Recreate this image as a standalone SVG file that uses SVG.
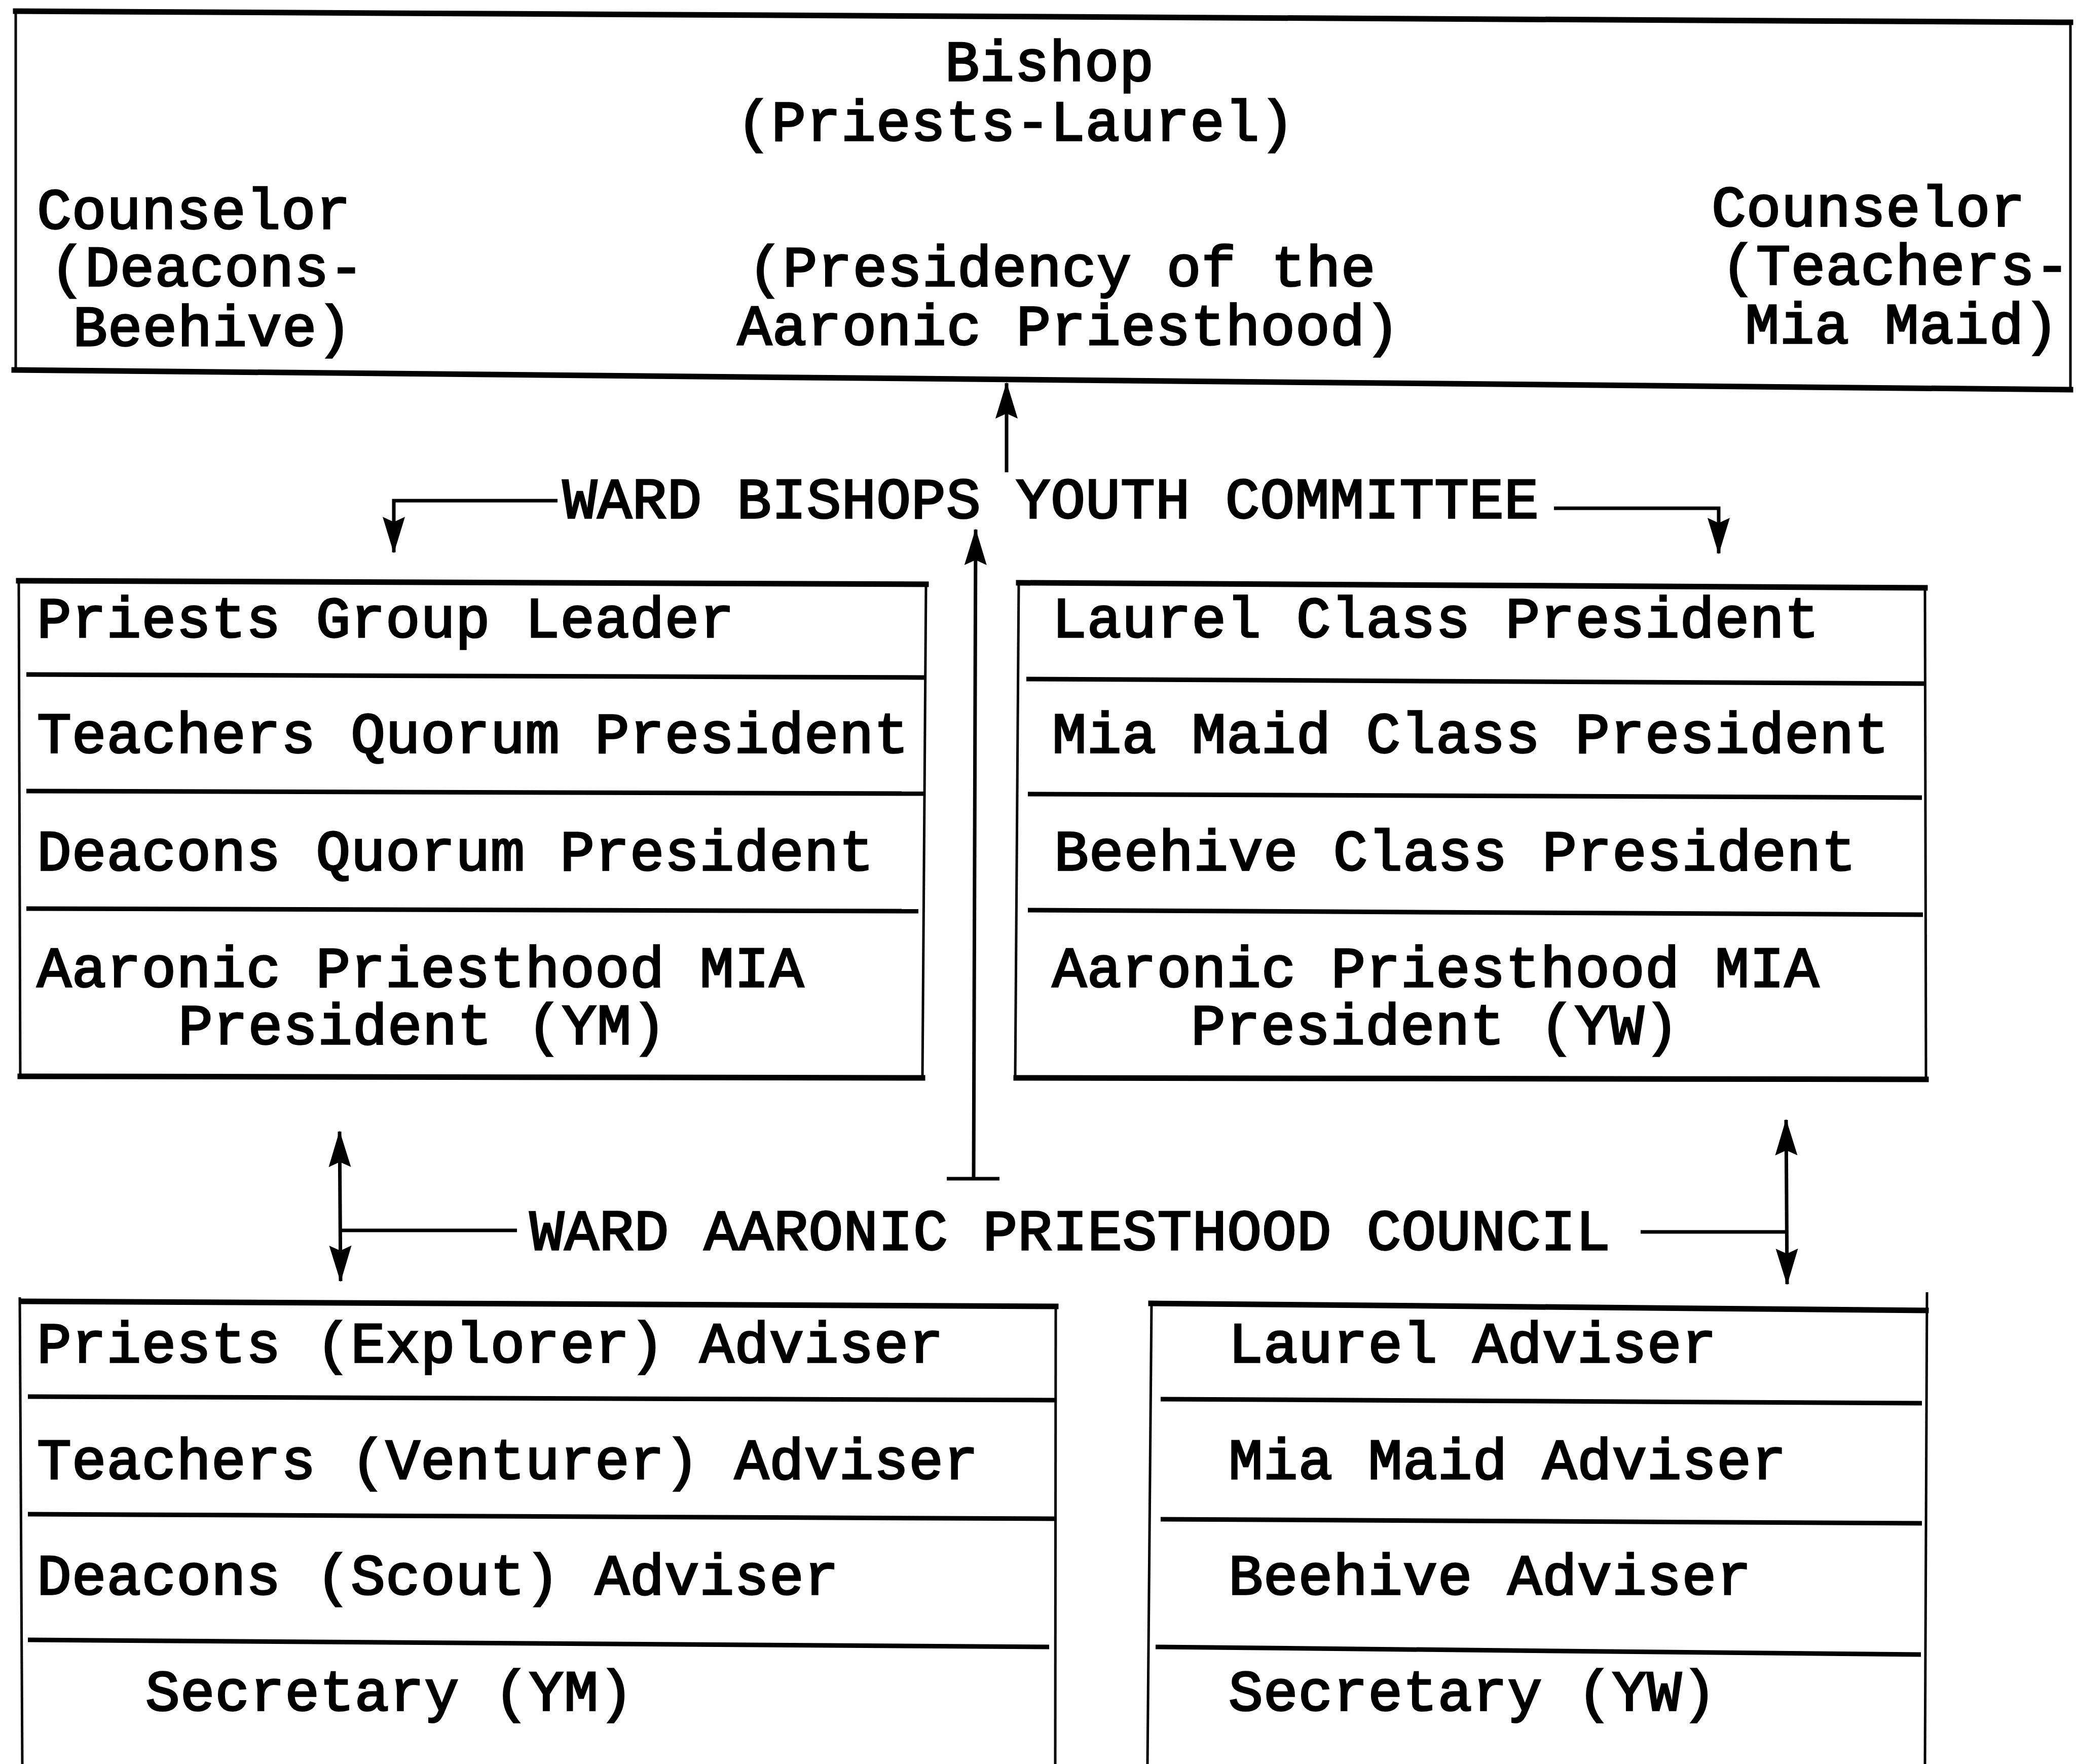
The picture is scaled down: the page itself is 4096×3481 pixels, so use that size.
<svg xmlns="http://www.w3.org/2000/svg" width="4096" height="3481" viewBox="0 0 4096 3481">
<defs>
<style>
.t{font-family:"Liberation Mono","Courier New",monospace;font-size:113px;letter-spacing:1px;fill:#000;stroke:#000;stroke-width:3.5px}
.h{stroke:#000;stroke-width:11;fill:none;stroke-linecap:square}
.d{stroke:#000;stroke-width:9;fill:none}
.v{stroke:#000;stroke-width:5;fill:none}
.c{stroke:#000;stroke-width:7;fill:none}
</style>
<marker id="arr" viewBox="0 0 72 46" refX="70" refY="23" markerWidth="72" markerHeight="46" markerUnits="userSpaceOnUse" orient="auto-start-reverse">
<path d="M0,1 L72,23 L0,45 L10,23 z" fill="#000"/>
</marker>
</defs>
<rect width="4096" height="3481" fill="#fff"/>

<g id="presidency">
<line class="h" x1="31" y1="22" x2="4085" y2="44"/>
<line class="h" x1="28" y1="730" x2="4085" y2="769"/>
<line class="v" x1="31" y1="22" x2="31" y2="730"/>
<line class="v" x1="4085" y1="44" x2="4085" y2="769"/>
<text class="t" x="2071" y="159" text-anchor="middle">Bishop</text>
<text class="t" x="2004" y="277" text-anchor="middle">(Priests-Laurel)</text>
<text class="t" x="73" y="451">Counselor</text>
<text class="t" x="99" y="564">(Deacons-</text>
<text class="t" x="144" y="682">Beehive)</text>
<text class="t" x="1476" y="564">(Presidency of the</text>
<text class="t" x="1455" y="680">Aaronic Priesthood)</text>
<text class="t" x="3377" y="446">Counselor</text>
<text class="t" x="3396" y="561">(Teachers-</text>
<text class="t" x="3443" y="677">Mia Maid)</text>
</g>

<g id="youth-committee">
<text class="t" x="1110" y="1022">WARD BISHOPS YOUTH COMMITTEE</text>
</g>

<g id="ym-presidents">
<line class="h" x1="37" y1="1146" x2="1827" y2="1153"/>
<line class="d" x1="52" y1="1331" x2="1827" y2="1337"/>
<line class="d" x1="52" y1="1561" x2="1822" y2="1566"/>
<line class="d" x1="52" y1="1793" x2="1812" y2="1798"/>
<line class="h" x1="40" y1="2124" x2="1820" y2="2127"/>
<line class="v" x1="37" y1="1146" x2="40" y2="2124"/>
<line class="v" x1="1827" y1="1153" x2="1820" y2="2127"/>
<text class="t" x="73" y="1257">Priests Group Leader</text>
<text class="t" x="73" y="1485">Teachers Quorum President</text>
<text class="t" x="73" y="1717">Deacons Quorum President</text>
<text class="t" x="73" y="1947">Aaronic Priesthood MIA</text>
<text class="t" x="352" y="2060">President (YM)</text>
</g>

<g id="yw-presidents">
<line class="h" x1="2010" y1="1150" x2="3798" y2="1160"/>
<line class="d" x1="2025" y1="1340" x2="3798" y2="1349"/>
<line class="d" x1="2028" y1="1567" x2="3792" y2="1574"/>
<line class="d" x1="2028" y1="1796" x2="3794" y2="1805"/>
<line class="h" x1="2005" y1="2127" x2="3800" y2="2130"/>
<line class="v" x1="2010" y1="1150" x2="2003" y2="2127"/>
<line class="v" x1="3798" y1="1160" x2="3800" y2="2130"/>
<text class="t" x="2076" y="1257">Laurel Class President</text>
<text class="t" x="2076" y="1485">Mia Maid Class President</text>
<text class="t" x="2080" y="1717">Beehive Class President</text>
<text class="t" x="2076" y="1947">Aaronic Priesthood MIA</text>
<text class="t" x="2350" y="2060">President (YW)</text>
</g>

<g id="aaronic-council">
<text class="t" x="1045" y="2466">WARD AARONIC PRIESTHOOD COUNCIL</text>
</g>

<g id="ym-advisers">
<line class="h" x1="45" y1="2568" x2="2083" y2="2578"/>
<line class="d" x1="55" y1="2756" x2="2083" y2="2763"/>
<line class="d" x1="55" y1="2988" x2="2080" y2="2997"/>
<line class="d" x1="55" y1="3236" x2="2070" y2="3250"/>
<line class="v" x1="39" y1="2560" x2="44" y2="3481"/>
<line class="v" x1="2083" y1="2578" x2="2082" y2="3481"/>
<text class="t" x="73" y="2688">Priests (Explorer) Adviser</text>
<text class="t" x="73" y="2918">Teachers (Venturer) Adviser</text>
<text class="t" x="73" y="3146">Deacons (Scout) Adviser</text>
<text class="t" x="287" y="3375">Secretary (YM)</text>
</g>

<g id="yw-advisers">
<line class="h" x1="2271" y1="2572" x2="3800" y2="2586"/>
<line class="d" x1="2290" y1="2761" x2="3792" y2="2769"/>
<line class="d" x1="2290" y1="2998" x2="3792" y2="3006"/>
<line class="d" x1="2280" y1="3250" x2="3790" y2="3265"/>
<line class="v" x1="2272" y1="2572" x2="2264" y2="3481"/>
<line class="v" x1="3802" y1="2550" x2="3798" y2="3481"/>
<text class="t" x="2424" y="2688">Laurel Adviser</text>
<text class="t" x="2424" y="2918">Mia Maid Adviser</text>
<text class="t" x="2424" y="3146">Beehive Adviser</text>
<text class="t" x="2424" y="3375">Secretary (YW)</text>
</g>

<g id="connectors">
<line class="c" x1="1986" y1="932" x2="1986" y2="756" marker-end="url(#arr)"/>
<polyline class="c" points="1100,988 777,988 777,1090" marker-end="url(#arr)"/>
<polyline class="c" points="3066,1003 3391,1003 3391,1092" marker-end="url(#arr)"/>
<line class="c" x1="1921" y1="2326" x2="1925" y2="1045" marker-end="url(#arr)"/>
<line class="c" x1="1868" y1="2326" x2="1972" y2="2326"/>
<line class="c" x1="670" y1="2233" x2="672" y2="2528" marker-start="url(#arr)" marker-end="url(#arr)"/>
<line class="c" x1="670" y1="2428" x2="1020" y2="2428"/>
<line class="c" x1="3524" y1="2210" x2="3526" y2="2534" marker-start="url(#arr)" marker-end="url(#arr)"/>
<line class="c" x1="3237" y1="2431" x2="3525" y2="2431"/>
</g>
</svg>
